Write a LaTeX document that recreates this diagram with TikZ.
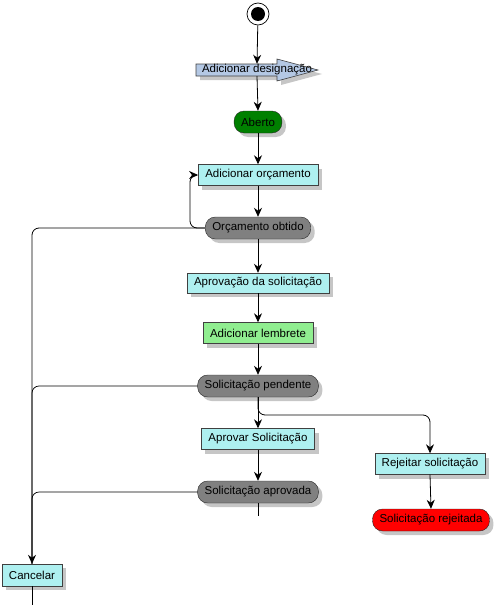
\documentclass[tikz,border=0pt]{standalone}
\usepackage{fontspec}
\setmainfont{Liberation Sans}
\usetikzlibrary{arrows.meta,shadows}
\definecolor{actcyan}{HTML}{AEF0F0}
\definecolor{desigblue}{HTML}{B4C8E4}
\definecolor{statgreen}{HTML}{008000}
\definecolor{lembgreen}{HTML}{90EE90}
\definecolor{statgray}{HTML}{808080}
\definecolor{shadowgray}{HTML}{B8B8B8}
\tikzset{
  shade4/.style={drop shadow={shadow xshift=4pt,shadow yshift=-4pt,fill=shadowgray,opacity=0.8}},
  actbox/.style={rectangle,draw=black!75,fill=actcyan,minimum height=21,inner xsep=7,inner ysep=0,font=\fontsize{11.5}{13}\selectfont,shade4},
  statbox/.style={rectangle,rounded corners=10pt,draw=black!85,fill=statgray,minimum height=22,inner xsep=7,inner ysep=0,font=\fontsize{11.5}{13}\selectfont,shade4},
  flow/.style={-{Stealth[length=9pt,width=8pt]},line width=0.8pt},
  rail/.style={line width=0.7pt,rounded corners=7pt}
}
\begin{document}
\begin{tikzpicture}[x=1pt,y=-1pt]
				\useasboundingbox (0,0) rectangle (493,605);
				% inicio
				\node [circle,draw,line width=0.7pt,fill=white,minimum size=22,inner sep=0] (start) at (258,14) {};
				\fill (start) circle [radius=7pt];
				% designacao (seta)
				\path [fill=desigblue,draw=black!75,line width=0.6pt,shade4] (196,64)--(277,64)--(277,59)--(318,70)--(277,81)--(277,76)--(196,76)--cycle;
				\node [inner sep=0,minimum height=12,font=\fontsize{11.5}{13}\selectfont] (desig) at (257,70) {Adicionar designação};
				% estados e atividades
				\node [statbox,fill=statgreen] (aberto) at (258,122) {Aberto};
				\node [actbox] (adorc) at (258,175) {Adicionar orçamento};
				\node [statbox] (obtido) at (258,228) {Orçamento obtido};
				\node [actbox,minimum height=20] (aprovacao) at (258,283) {Aprovação da solicitação};
				\node [actbox,fill=lembgreen] (lembrete) at (258,333) {Adicionar lembrete};
				\node [statbox] (pendente) at (258,386) {Solicitação pendente};
				\node [actbox] (aprovar) at (258,439) {Aprovar Solicitação};
				\node [actbox] (rejeitar) at (430,464) {Rejeitar solicitação};
				\node [statbox] (aprovada) at (258,492) {Solicitação aprovada};
				\node [statbox,fill=red] (rejeitada) at (431,520) {Solicitação rejeitada};
				\node [actbox,minimum height=22] (cancel) at (32,575) {Cancelar};
				% pontos livres
				\coordinate (loopx) at (190,228);
				\coordinate (branch) at (258,415);
				\coordinate (aprovstub) at (258,516);
				\coordinate (cancelstub) at (32,605);
				% conectores
				\draw [flow] (start) -- (desig.north);
				\draw [flow] (desig.south) -- (aberto.north);
				\draw [flow] (aberto.south) -- (adorc.north);
				\draw [flow] (adorc.south) -- (obtido.north);
				\draw [flow,rounded corners=7pt] (obtido.west) -- (loopx) |- (adorc.west);
				\draw [flow] (obtido.south) -- (aprovacao.north);
				\draw [flow] (aprovacao.south) -- (lembrete.north);
				\draw [flow] (lembrete.south) -- (pendente.north);
				\draw [flow] (pendente.south) -- (aprovar.north);
				\draw [flow,rounded corners=7pt] (pendente.south) -- (branch) -| (rejeitar.north);
				\draw [flow] (aprovar.south) -- (aprovada.north);
				\draw [flow] (rejeitar.south) -- (rejeitada.north);
				\draw [line width=0.7pt] (aprovada.south) -- (aprovstub);
				\draw [flow,rounded corners=7pt] (obtido.west) -| (cancel.north);
				\draw [rail] (pendente.west) -| (cancel.north);
				\draw [rail] (aprovada.west) -| (cancel.north);
				\draw [line width=0.7pt] (cancel.south) -- (cancelstub);
\end{tikzpicture}
\end{document}
